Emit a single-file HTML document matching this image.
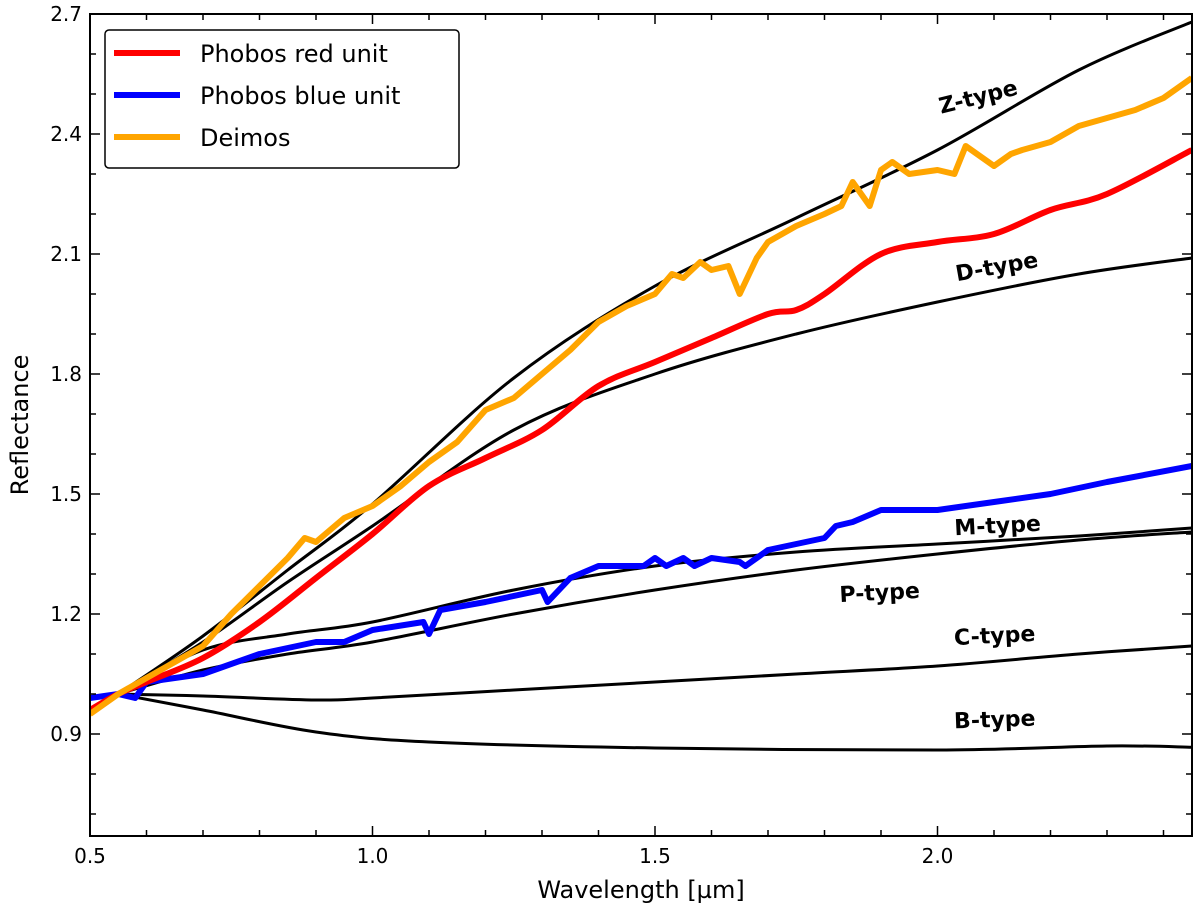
<!DOCTYPE html>
<html><head><meta charset="utf-8"><style>
body{margin:0;background:#fff;}
svg text{font-family:"DejaVu Sans","Liberation Sans",sans-serif;}
</style></head><body>
<svg id="chart" width="1200" height="914" viewBox="0 0 1200 914" xmlns="http://www.w3.org/2000/svg">
<g id="marks"></g>
<g id="axes"></g>
</svg>
<script>
const xTicks=[0.5,1.0,1.5,2.0];
const yTicks=[0.9,1.2,1.5,1.8,2.1,2.4,2.7];
const wlZ=[0.55,0.7,0.85,1.0,1.25,1.5,1.75,2.0,2.25,2.45];
const refZ=[1.0,1.145,1.31,1.475,1.79,2.02,2.19,2.36,2.56,2.68];
const wlD=[0.55,0.7,0.85,1.0,1.25,1.5,1.75,2.0,2.25,2.45];
const refD=[1.0,1.13,1.28,1.42,1.66,1.80,1.90,1.98,2.05,2.09];
const wlM=[0.55,0.7,0.85,1.0,1.25,1.5,1.75,2.0,2.25,2.45];
const refM=[1.0,1.11,1.15,1.18,1.26,1.32,1.355,1.375,1.395,1.415];
const wlP=[0.55,0.7,0.85,1.0,1.25,1.5,1.75,2.0,2.25,2.45];
const refP=[1.0,1.06,1.1,1.13,1.2,1.26,1.31,1.35,1.385,1.405];
const wlC=[0.55,0.7,0.9,1.0,1.25,1.5,1.75,2.0,2.25,2.45];
const refC=[1.0,0.995,0.985,0.99,1.01,1.03,1.05,1.07,1.1,1.12];
const wlB=[0.55,0.7,0.9,1.1,1.5,2.0,2.3,2.45];
const refB=[1.0,0.96,0.905,0.88,0.865,0.86,0.87,0.867];
const wlRed=[0.5,0.55,0.6,0.7,0.8,0.9,1.0,1.1,1.2,1.3,1.4,1.5,1.6,1.7,1.75,1.8,1.9,2.0,2.1,2.2,2.3,2.45];
const refRed=[0.96,1.0,1.03,1.09,1.18,1.29,1.40,1.52,1.59,1.66,1.77,1.83,1.89,1.95,1.96,2.0,2.1,2.13,2.15,2.21,2.25,2.36];
const wlBlue=[0.5,0.55,0.58,0.6,0.7,0.8,0.9,0.95,1.0,1.09,1.1,1.12,1.2,1.3,1.31,1.35,1.4,1.48,1.5,1.52,1.55,1.57,1.6,1.65,1.66,1.7,1.8,1.82,1.85,1.9,2.0,2.1,2.2,2.3,2.45];
const refBlue=[0.99,1.0,0.99,1.03,1.05,1.10,1.13,1.13,1.16,1.18,1.15,1.21,1.23,1.26,1.23,1.29,1.32,1.32,1.34,1.32,1.34,1.32,1.34,1.33,1.32,1.36,1.39,1.42,1.43,1.46,1.46,1.48,1.50,1.53,1.57];
const wlDeimos=[0.5,0.55,0.6,0.65,0.7,0.75,0.8,0.85,0.88,0.9,0.95,1.0,1.05,1.1,1.15,1.2,1.25,1.3,1.35,1.4,1.45,1.5,1.53,1.55,1.58,1.6,1.63,1.65,1.68,1.7,1.75,1.8,1.83,1.85,1.88,1.9,1.92,1.95,2.0,2.03,2.05,2.1,2.13,2.15,2.2,2.25,2.3,2.35,2.4,2.45];
const refDeimos=[0.95,1.0,1.04,1.08,1.12,1.2,1.27,1.34,1.39,1.38,1.44,1.47,1.52,1.58,1.63,1.71,1.74,1.80,1.86,1.93,1.97,2.0,2.05,2.04,2.08,2.06,2.07,2.0,2.09,2.13,2.17,2.2,2.22,2.28,2.22,2.31,2.33,2.3,2.31,2.3,2.37,2.32,2.35,2.36,2.38,2.42,2.44,2.46,2.49,2.54];

const L=90,R=1192,T=14,B=836;
const xmin=0.5,xmax=0.5+(R-L)/565;
const ymax=2.7,ymin=2.7-(B-T)/400;
const sx=v=>L+(v-xmin)/(xmax-xmin)*(R-L);
const sy=v=>B-(v-ymin)/(ymax-ymin)*(B-T);
const NS='http://www.w3.org/2000/svg';
const marks=document.getElementById('marks'),axes=document.getElementById('axes');
function mk(tag,attrs,parent){const e=document.createElementNS(NS,tag);for(const k in attrs)e.setAttribute(k,attrs[k]);parent.appendChild(e);return e;}
function path(xs,ys){return xs.map((x,i)=>(i?'L':'M')+sx(x).toFixed(1)+','+sy(ys[i]).toFixed(1)).join('');}
function smooth(xs,ys){const P=xs.map((x,i)=>[sx(x),sy(ys[i])]);let d='M'+P[0][0].toFixed(1)+','+P[0][1].toFixed(1);
 for(let i=0;i<P.length-1;i++){const p0=P[i-1]||P[i],p1=P[i],p2=P[i+1],p3=P[i+2]||P[i+1];
 const c1=[p1[0]+(p2[0]-p0[0])/6,p1[1]+(p2[1]-p0[1])/6],c2=[p2[0]-(p3[0]-p1[0])/6,p2[1]-(p3[1]-p1[1])/6];
 d+=`C${c1[0].toFixed(1)},${c1[1].toFixed(1)} ${c2[0].toFixed(1)},${c2[1].toFixed(1)} ${p2[0].toFixed(1)},${p2[1].toFixed(1)}`;}return d;}
const series=[
 [wlB,refB,'#000',3,'b-type-curve',1],[wlC,refC,'#000',3,'c-type-curve',1],[wlP,refP,'#000',3,'p-type-curve',1],
 [wlM,refM,'#000',3,'m-type-curve',1],[wlD,refD,'#000',3,'d-type-curve',1],[wlZ,refZ,'#000',3,'z-type-curve',1],
 [wlBlue,refBlue,'#0000ff',6,'phobos-blue-line',0],[wlRed,refRed,'#ff0000',6,'phobos-red-line',1],[wlDeimos,refDeimos,'#ffa500',6,'deimos-line',0]];
const clip=mk('clipPath',{id:'cp'},marks);mk('rect',{x:L,y:T,width:R-L,height:B-T},clip);
series.forEach(s=>{const p=mk('path',{d:s[5]?smooth(s[0],s[1]):path(s[0],s[1]),fill:'none',stroke:s[2],'stroke-width':s[3],'stroke-linejoin':'round','clip-path':'url(#cp)'},marks);

});
const labels=[['Z-type',980,104,-14],['D-type',998,274,-10],['M-type',998,533,-3],['P-type',880,600,-3],['C-type',995,643,-3],['B-type',995,727,-2]];
labels.forEach(l=>{const t=mk('text',{x:l[1],y:l[2],'font-size':22,'font-weight':'bold','text-anchor':'middle',transform:`rotate(${l[3]} ${l[1]} ${l[2]})`},marks);t.textContent=l[0];

});
const fr=mk('rect',{x:L,y:T,width:R-L,height:B-T,fill:'none',stroke:'#000','stroke-width':2},axes);


for(let v=0.5;v<=xmax+1e-9;v+=0.1){const x=sx(v);const maj=Math.abs(v*2-Math.round(v*2))<1e-6;const len=maj?10:6;
 mk('line',{x1:x,y1:B,x2:x,y2:B-len,stroke:'#000','stroke-width':1.5},axes);mk('line',{x1:x,y1:T,x2:x,y2:T+len,stroke:'#000','stroke-width':1.5},axes);}
for(let v=0.7;v<=2.7+1e-9;v+=0.1){const y=sy(v);const maj=yTicks.some(t=>Math.abs(t-v)<1e-6);const len=maj?10:6;
 mk('line',{x1:L,y1:y,x2:L+len,y2:y,stroke:'#000','stroke-width':1.5},axes);mk('line',{x1:R,y1:y,x2:R-len,y2:y,stroke:'#000','stroke-width':1.5},axes);}
xTicks.forEach(v=>{const t=mk('text',{x:sx(v),y:B+27,'font-size':20,'text-anchor':'middle'},axes);t.textContent=v.toFixed(1);

});
yTicks.forEach(v=>{const t=mk('text',{x:L-8,y:sy(v)+7,'font-size':20,'text-anchor':'end'},axes);t.textContent=v.toFixed(1);

});
const xt=mk('text',{x:(L+R)/2,y:898,'font-size':24,'text-anchor':'middle'},axes);xt.textContent='Wavelength [µm]';


const yt=mk('text',{x:28,y:425,'font-size':24,'text-anchor':'middle',transform:'rotate(-90 28 425)'},axes);yt.textContent='Reflectance';


const lg=mk('g',{},axes);


mk('rect',{x:105,y:30,width:354,height:138,rx:4,fill:'#fff',stroke:'#000','stroke-width':1.5},lg);
[['Phobos red unit','#ff0000'],['Phobos blue unit','#0000ff'],['Deimos','#ffa500']].forEach((e,i)=>{const y=53+i*42;
 const g=mk('g',{},lg);
 
 
 mk('line',{x1:114,y1:y,x2:180,y2:y,stroke:e[1],'stroke-width':6},g);
 const t=mk('text',{x:200,y:y+9,'font-size':24},g);t.textContent=e[0];});
</script>
</body></html>
